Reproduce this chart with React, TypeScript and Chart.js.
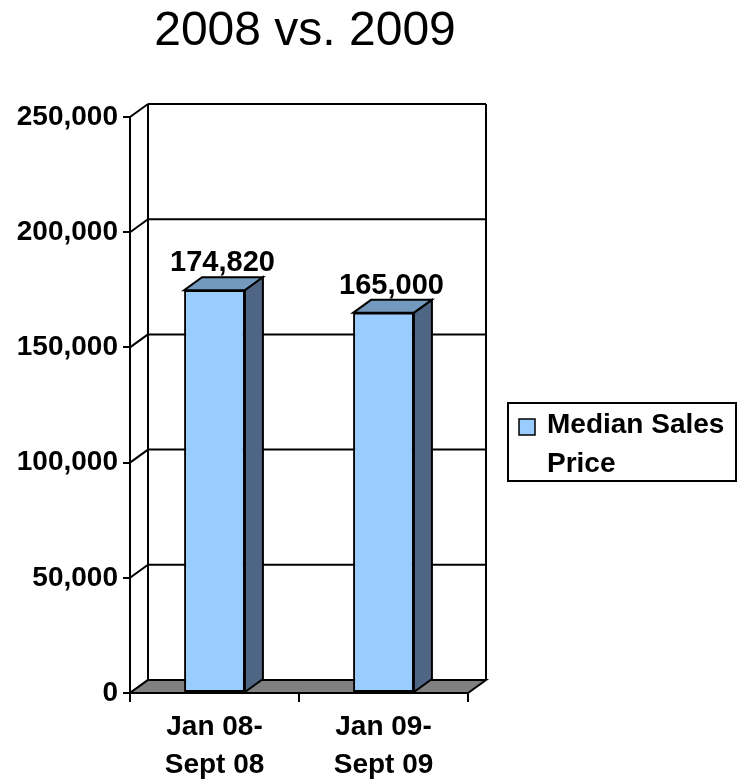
import React, { useEffect, useRef } from "react";
import { Chart, registerables } from "chart.js";

Chart.register(...registerables);

const chartTitle = "2008 vs. 2009";
const categories = [
  ["Jan 08-", "Sept 08"],
  ["Jan 09-", "Sept 09"],
];
const seriesLegendLines = ["Median Sales", "Price"];
const medianSalesPrice = [174820, 165000];
const yMin = 0;
const yMax = 250000;
const yStep = 50000;

const FONT = '"Liberation Sans", Arial, Helvetica, sans-serif';
const DX = 18;
const DY = -13;
const LW = 2;
const FRONT = "#99CCFF";
const TOP = "#7399BF";
const SIDE = "#4F6584";
const FLOOR = "#808080";

const fmt = (v: number) => v.toLocaleString("en-US");

function poly(ctx: CanvasRenderingContext2D, pts: number[][], fill: string) {
  ctx.beginPath();
  ctx.moveTo(pts[0][0], pts[0][1]);
  for (let i = 1; i < pts.length; i++) ctx.lineTo(pts[i][0], pts[i][1]);
  ctx.closePath();
  ctx.fillStyle = fill;
  ctx.fill();
  ctx.stroke();
}

function line(ctx: CanvasRenderingContext2D, x1: number, y1: number, x2: number, y2: number) {
  ctx.beginPath();
  ctx.moveTo(x1, y1);
  ctx.lineTo(x2, y2);
  ctx.stroke();
}

const threeD = {
  id: "threeD",
  beforeDatasetsDraw(chart: any) {
    const { ctx, chartArea: a } = chart;
    const y = chart.scales.y;
    ctx.save();
    ctx.lineWidth = LW;
    ctx.strokeStyle = "#000";
    ctx.lineJoin = "miter";
    const bl = a.left + DX;
    const br = a.right + DX;
    const bt = a.top + DY;
    const bb = a.bottom + DY;
    // back wall
    ctx.fillStyle = "#fff";
    ctx.fillRect(bl, bt, br - bl, bb - bt);
    y.ticks.forEach((t: any) => {
      const py = y.getPixelForValue(t.value);
      line(ctx, bl, py + DY, br, py + DY);
      line(ctx, a.left, py, bl, py + DY);
    });
    line(ctx, bl, bt, bl, bb);
    line(ctx, br, bt, br, bb);
    // floor
    poly(
      ctx,
      [
        [a.left, a.bottom],
        [a.right, a.bottom],
        [br, bb],
        [bl, bb],
      ],
      FLOOR
    );
    ctx.restore();
  },
  afterDatasetsDraw(chart: any) {
    const { ctx } = chart;
    const meta = chart.getDatasetMeta(0);
    ctx.save();
    ctx.lineWidth = LW;
    ctx.strokeStyle = "#000";
    meta.data.forEach((bar: any, i: number) => {
      const { x, y, base, width } = bar.getProps(["x", "y", "base", "width"], true);
      const l = x - width / 2;
      const r = x + width / 2;
      poly(
        ctx,
        [
          [l, y],
          [r, y],
          [r + DX, y + DY],
          [l + DX, y + DY],
        ],
        TOP
      );
      poly(
        ctx,
        [
          [r, y],
          [r + DX, y + DY],
          [r + DX, base + DY],
          [r, base],
        ],
        SIDE
      );
      ctx.fillStyle = "#000";
      ctx.font = `bold 29px ${FONT}`;
      ctx.textAlign = "center";
      ctx.textBaseline = "alphabetic";
      ctx.fillText(fmt(medianSalesPrice[i]), x + DX / 2 - 1, y + DY - 6);
    });
    ctx.restore();
  },
  afterDraw(chart: any) {
    const { ctx } = chart;
    ctx.save();
    // title
    ctx.fillStyle = "#000";
    ctx.font = `48px ${FONT}`;
    ctx.textAlign = "center";
    ctx.textBaseline = "alphabetic";
    ctx.fillText(chartTitle, 305, 45);
    // legend
    ctx.lineWidth = LW;
    ctx.strokeStyle = "#000";
    ctx.fillStyle = "#fff";
    ctx.fillRect(508, 403, 228, 78);
    ctx.strokeRect(508, 403, 228, 78);
    ctx.fillStyle = FRONT;
    ctx.fillRect(519, 419, 16, 16);
    ctx.lineWidth = 1.5;
    ctx.strokeRect(519, 419, 16, 16);
    ctx.fillStyle = "#000";
    ctx.font = `bold 28px ${FONT}`;
    ctx.textAlign = "left";
    ctx.fillText(seriesLegendLines[0], 547, 433);
    ctx.fillText(seriesLegendLines[1], 547, 472);
    ctx.restore();
  },
};

export default function App() {
  const ref = useRef<HTMLCanvasElement | null>(null);
  useEffect(() => {
    if (!ref.current) return;
    const chart = new Chart(ref.current, {
      type: "bar",
      data: {
        labels: categories,
        datasets: [
          {
            label: seriesLegendLines.join(" "),
            data: medianSalesPrice,
            backgroundColor: FRONT,
            borderColor: "#000",
            borderWidth: LW,
            borderSkipped: false,
            categoryPercentage: 1,
            barPercentage: 0.36,
          },
        ],
      },
      options: {
        responsive: false,
        animation: false,
        devicePixelRatio: 1,
        layout: { padding: { top: 117, right: 269, left: 0, bottom: 0 } },
        plugins: {
          legend: { display: false },
          title: { display: false },
          tooltip: { enabled: false },
        },
        scales: {
          x: {
            afterFit: (s: any) => {
              s.height = 88;
            },
            grid: {
              display: true,
              drawOnChartArea: false,
              drawTicks: true,
              tickLength: 9,
              color: "#000",
              lineWidth: LW,
              offset: true,
            },
            border: { display: true, color: "#000", width: LW },
            ticks: {
              color: "#000",
              font: { family: FONT, size: 28, weight: "bold", lineHeight: 1.33 },
              padding: 7,
              maxRotation: 0,
              autoSkip: false,
            },
          },
          y: {
            min: yMin,
            max: yMax,
            afterFit: (s: any) => {
              s.width = 130;
            },
            grid: {
              display: true,
              drawOnChartArea: false,
              drawTicks: true,
              tickLength: 7,
              color: "#000",
              lineWidth: LW,
            },
            border: { display: true, color: "#000", width: LW },
            ticks: {
              stepSize: yStep,
              color: "#000",
              padding: 5,
              font: { family: FONT, size: 28, weight: "bold" },
              callback: (v: any) => fmt(Number(v)),
            },
          },
        },
      },
      plugins: [threeD],
    });
    return () => chart.destroy();
  }, []);
  return (
    <div style={{ position: "absolute", left: 0, top: 0, width: 737, height: 781, background: "#fff" }}>
      <canvas ref={ref} width={737} height={781} style={{ display: "block" }} />
    </div>
  );
}
